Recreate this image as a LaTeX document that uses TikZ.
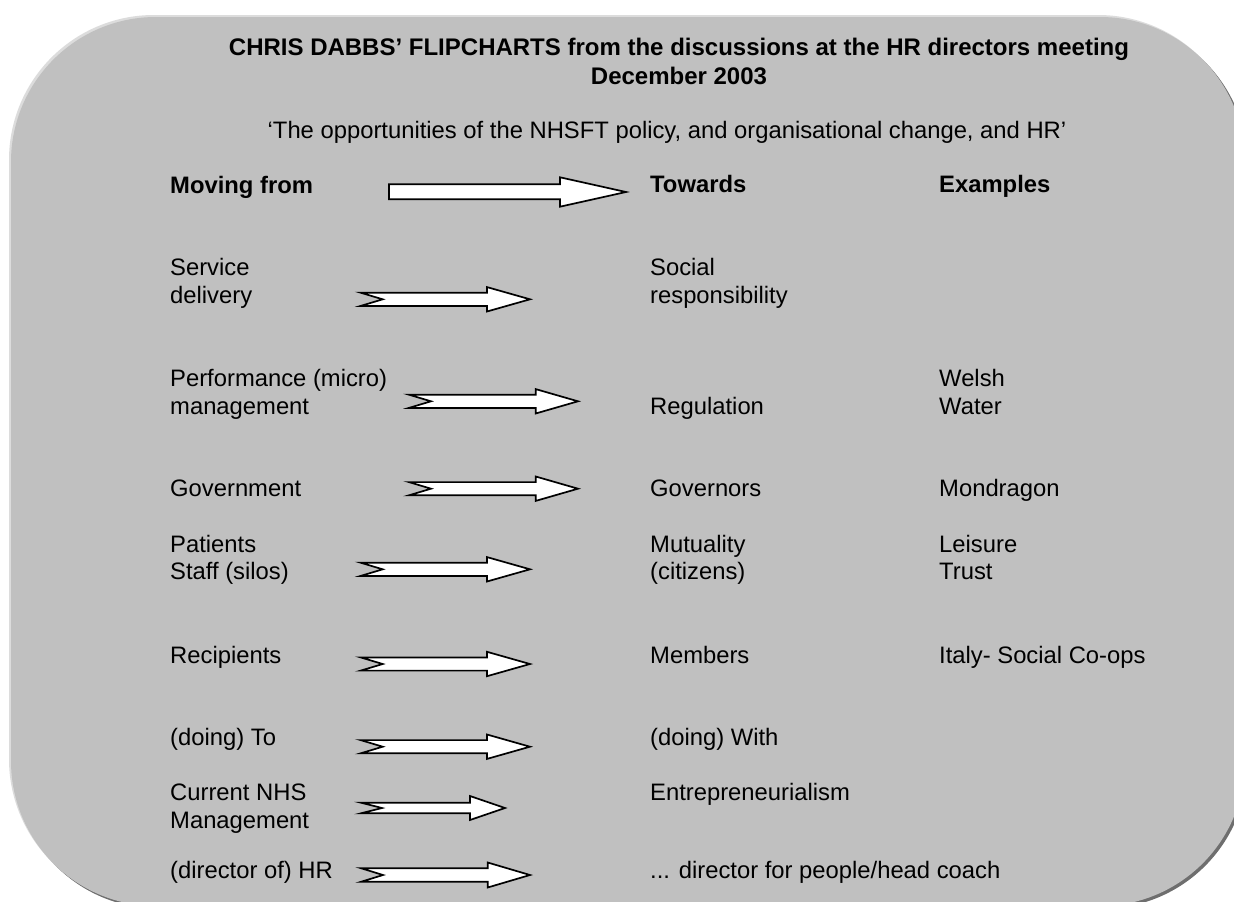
\documentclass[tikz,border=0pt]{standalone}
\usepackage{fontspec}
\setmainfont{Liberation Sans}
\definecolor{boxgray}{HTML}{C0C0C0}
\definecolor{shadowgray}{HTML}{6E6E6E}
\definecolor{hilite}{HTML}{DCDCDC}
\newcommand\notchedarrow[7]{% tail x, head x, tip x, y, shaft half, head half, notch
  \draw[fatarrow] (#1,#4-#5) -- (#2,#4-#5) -- (#2,#4-#6) -- (#3,#4) -- (#2,#4+#6)
    -- (#2,#4+#5) -- (#1,#4+#5) -- (#1+#7,#4) -- cycle;}
\begin{document}
\begin{tikzpicture}[x=1pt,y=-1pt,
  txt/.style={anchor=base west, inner sep=0pt, font=\fontsize{23.8}{27.5}\selectfont},
  hdr/.style={anchor=base west, inner sep=0pt, font=\fontsize{23.8}{27.5}\selectfont\bfseries},
  ttl/.style={anchor=base, inner sep=0pt, font=\fontsize{24}{27.5}\selectfont\bfseries},
  sub/.style={anchor=base, inner sep=0pt, font=\fontsize{23.8}{27.5}\selectfont},
  fatarrow/.style={draw=black, fill=white, line width=1.7pt, line join=miter},
]
\useasboundingbox (0,0) rectangle (1234,902);
\clip (0,0) rectangle (1234,902);
\fill[white] (0,0) rectangle (1234,902);
% panel with shadow and highlight
\fill[shadowgray, rounded corners=145pt] (13.5,19.5) rectangle (1247.5,908.5);
\fill[hilite, rounded corners=145pt] (9,15) rectangle (1243,904);
\fill[boxgray, rounded corners=145pt] (11,17) rectangle (1245,906);

% title
\node[ttl] (t1) at (679,55) {CHRIS DABBS’ FLIPCHARTS from the discussions at the HR directors meeting};
\node[ttl] (t2) at (679,84) {December 2003};
\node[sub] (t3) at (667,138) {‘The opportunities of the NHSFT policy, and organisational change, and HR’};

% headers
\node[hdr] (hfrom) at (170,193) {Moving from};
\node[hdr] (hto) at (650,192.5) {Towards};
\node[hdr] (hex) at (939,192.5) {Examples};
\draw[fatarrow] (389,184.2) -- (560,184.2) -- (560,177.3) -- (626,192) -- (560,206.7)
  -- (560,199.3) -- (389,199.3) -- cycle;

% left column
\node[txt] (a1) at (170,275.7) {Service};
\node[txt] (a2) at (170,303.2) {delivery};
\node[txt] (b1) at (170,386.7) {Performance (micro)};
\node[txt] (b2) at (170,414.2) {management};
\node[txt] (c1) at (170,496.7) {Government};
\node[txt] (d1) at (170,552) {Patients};
\node[txt] (d2) at (170,579.5) {Staff (silos)};
\node[txt] (e1) at (170,663.3) {Recipients};
\node[txt] (f1) at (170,745) {(doing) To};
\node[txt] (g1) at (170,800.5) {Current NHS};
\node[txt] (g2) at (170,828) {Management};
\node[txt] (h1) at (170,878.5) {(director of) HR};

% middle column
\node[txt] (ma1) at (650,275.7) {Social};
\node[txt] (ma2) at (650,303.2) {responsibility};
\node[txt] (mb) at (650,414.2) {Regulation};
\node[txt] (mc) at (650,496.7) {Governors};
\node[txt] (md1) at (650,552) {Mutuality};
\node[txt] (md2) at (650,579.5) {(citizens)};
\node[txt] (me) at (650,663.3) {Members};
\node[txt] (mf) at (650,745) {(doing) With};
\node[txt] (mg) at (650,800.5) {Entrepreneurialism};
\node[txt] (mh) at (650,878.5) {... director for people/head coach};

% right column
\node[txt] (rb1) at (939,386.7) {Welsh};
\node[txt] (rb2) at (939,414.2) {Water};
\node[txt] (rc) at (939,496.7) {Mondragon};
\node[txt] (rd1) at (939,552) {Leisure};
\node[txt] (rd2) at (939,579.5) {Trust};
\node[txt] (re) at (939,663.3) {Italy- Social Co-ops};

% arrows
\notchedarrow{360.7}{487}{530}{299.3}{6.6}{12.2}{22}
\notchedarrow{409}{535.7}{578}{401.3}{6.6}{12.2}{22}
\notchedarrow{409}{535.7}{578}{488.7}{6.6}{12.2}{22}
\notchedarrow{360.7}{487}{530}{569.3}{6.6}{12.2}{22}
\notchedarrow{360.7}{487}{530}{664}{6.6}{12.2}{22}
\notchedarrow{360.7}{487}{530}{746.7}{6.6}{12.2}{22}
\notchedarrow{361}{470}{505}{808}{5.3}{12}{21}
\notchedarrow{361}{487.7}{530}{875}{6.8}{12.5}{22}
\end{tikzpicture}
\end{document}
